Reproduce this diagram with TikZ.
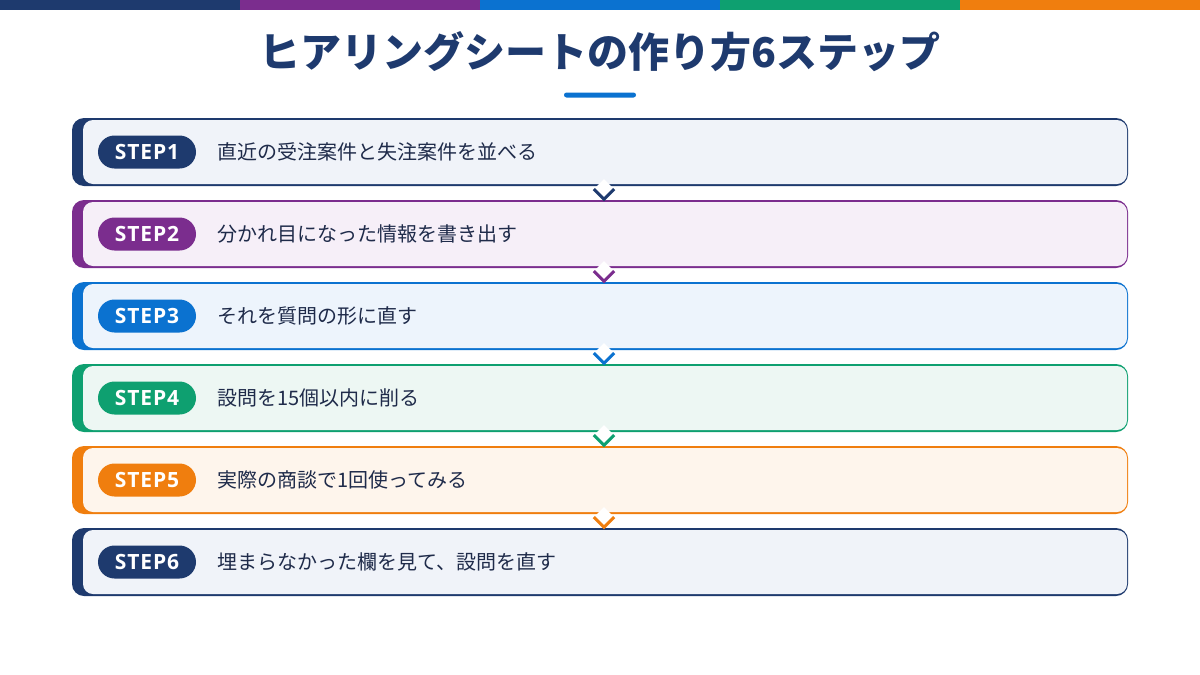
\documentclass[tikz,border=0pt]{standalone}
\usepackage{fontspec}
\setmainfont{Noto Sans CJK JP}
\newfontfamily\tagfont{Open Sans}[LetterSpace=4]
\usetikzlibrary{calc,positioning,shapes.geometric}

\definecolor{navy}{HTML}{1E3A6E}
\definecolor{plum}{HTML}{7B2D8E}
\definecolor{azure}{HTML}{0B72D0}
\definecolor{jade}{HTML}{0EA070}
\definecolor{amber}{HTML}{F07E0E}
\definecolor{navytint}{HTML}{F0F3F9}
\definecolor{plumtint}{HTML}{F6EFF8}
\definecolor{azuretint}{HTML}{EDF4FC}
\definecolor{jadetint}{HTML}{EDF7F3}
\definecolor{ambertint}{HTML}{FEF5EC}
\definecolor{ink}{HTML}{1F2B4A}

\tikzset{
  topbar/.style={fill=#1, minimum width=240pt, minimum height=10pt, inner sep=0pt, anchor=north west},
  stepframe/.style={fill=#1, rounded corners=12pt, minimum width=1056pt, minimum height=68pt,
    inner sep=0pt, outer sep=0pt},
  steppanel/.style={fill=#1, rounded corners=10pt, minimum width=1044pt, minimum height=64pt, inner sep=0pt},
  steptag/.style={fill=#1, text=white, rounded corners=16.5pt, minimum width=98pt, minimum height=33pt,
    inner sep=0pt, font=\tagfont\fontsize{21}{24}\selectfont\bfseries},
  steptext/.style={anchor=west, text=ink, inner sep=0pt, font=\fontsize{20}{24}\selectfont},
  chevbox/.style={diamond, fill=white, minimum width=20pt, minimum height=20pt, inner sep=0pt},
  chevline/.style={draw=#1, line width=3pt}
}

\begin{document}
\begin{tikzpicture}[x=1pt,y=-1pt]
  \useasboundingbox (0,0) rectangle (1200,675);

  % colour bar along the top
  \node[topbar=navy] (bar1) at (0,0) {};
  \node[topbar=plum] (bar2) at (240,0) {};
  \node[topbar=azure] (bar3) at (480,0) {};
  \node[topbar=jade] (bar4) at (720,0) {};
  \node[topbar=amber] (bar5) at (960,0) {};

  \node[text=navy, font=\fontsize{41}{48}\selectfont\bfseries] (title) at (600,52) {ヒアリングシートの作り方6ステップ};
  \node[fill=azure, rounded corners=2.5pt, minimum width=72pt, minimum height=5pt, inner sep=0pt] (rule) at (600,95) {};

  % the six steps
  \node[stepframe=navy] (step1) at (600,152) {};
  \node[stepframe=plum, below=14pt of step1] (step2) {};
  \node[stepframe=azure, below=14pt of step2] (step3) {};
  \node[stepframe=jade, below=14pt of step3] (step4) {};
  \node[stepframe=amber, below=14pt of step4] (step5) {};
  \node[stepframe=navy, below=14pt of step5] (step6) {};

  \node[steppanel=navytint] (panel1) at ($(step1.center)+(5,0)$) {};
  \node[steppanel=plumtint] (panel2) at ($(step2.center)+(5,0)$) {};
  \node[steppanel=azuretint] (panel3) at ($(step3.center)+(5,0)$) {};
  \node[steppanel=jadetint] (panel4) at ($(step4.center)+(5,0)$) {};
  \node[steppanel=ambertint] (panel5) at ($(step5.center)+(5,0)$) {};
  \node[steppanel=navytint] (panel6) at ($(step6.center)+(5,0)$) {};

  \node[steptag=navy] (tag1) at ($(step1.west)+(75,0)$) {STEP1};
  \node[steptag=plum] (tag2) at ($(step2.west)+(75,0)$) {STEP2};
  \node[steptag=azure] (tag3) at ($(step3.west)+(75,0)$) {STEP3};
  \node[steptag=jade] (tag4) at ($(step4.west)+(75,0)$) {STEP4};
  \node[steptag=amber] (tag5) at ($(step5.west)+(75,0)$) {STEP5};
  \node[steptag=navy] (tag6) at ($(step6.west)+(75,0)$) {STEP6};

  \node[steptext] (text1) at ($(step1.west)+(145,0)$) {直近の受注案件と失注案件を並べる};
  \node[steptext] (text2) at ($(step2.west)+(145,0)$) {分かれ目になった情報を書き出す};
  \node[steptext] (text3) at ($(step3.west)+(145,0)$) {それを質問の形に直す};
  \node[steptext] (text4) at ($(step4.west)+(145,0)$) {設問を15個以内に削る};
  \node[steptext] (text5) at ($(step5.west)+(145,0)$) {実際の商談で1回使ってみる};
  \node[steptext] (text6) at ($(step6.west)+(145,0)$) {埋まらなかった欄を見て、設問を直す};

  % chevrons between the steps
  \node[chevbox] (chev1) at ($(step1.south)+(4,3)$) {};
  \draw[chevline=navy] (chev1.west) -- (chev1.south) -- (chev1.east);
  \node[chevbox] (chev2) at ($(step2.south)+(4,3)$) {};
  \draw[chevline=plum] (chev2.west) -- (chev2.south) -- (chev2.east);
  \node[chevbox] (chev3) at ($(step3.south)+(4,3)$) {};
  \draw[chevline=azure] (chev3.west) -- (chev3.south) -- (chev3.east);
  \node[chevbox] (chev4) at ($(step4.south)+(4,3)$) {};
  \draw[chevline=jade] (chev4.west) -- (chev4.south) -- (chev4.east);
  \node[chevbox] (chev5) at ($(step5.south)+(4,3)$) {};
  \draw[chevline=amber] (chev5.west) -- (chev5.south) -- (chev5.east);
\end{tikzpicture}
\end{document}
